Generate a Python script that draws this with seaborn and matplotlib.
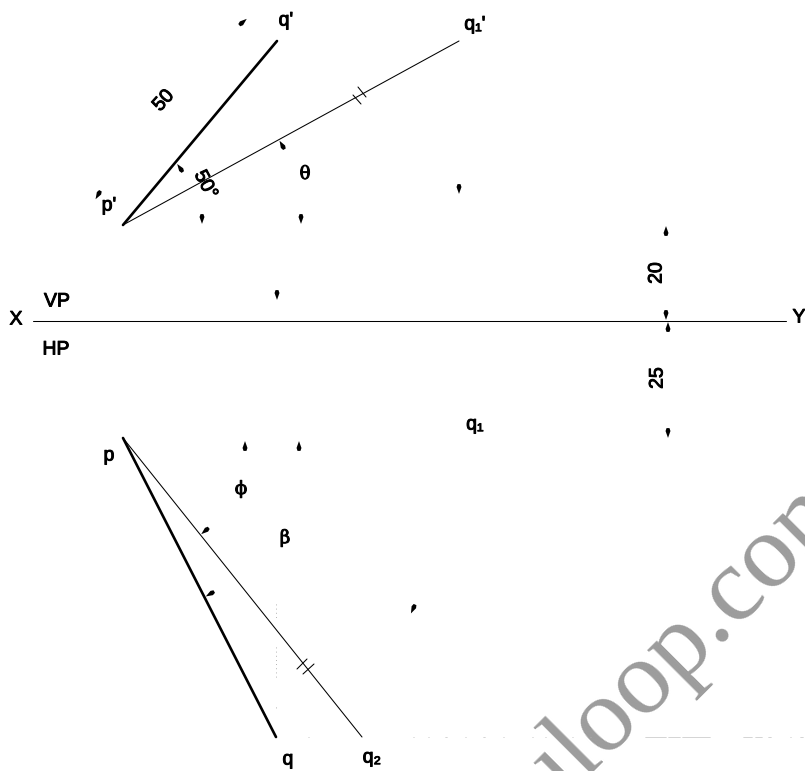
import matplotlib

matplotlib.use("Agg")
import matplotlib.patheffects as pe
import seaborn as sns
from matplotlib import pyplot as plt
from matplotlib.markers import MarkerStyle
from matplotlib.path import Path
from matplotlib.transforms import Affine2D

# everything below is in picture coordinates, y going down
thick_lines = [
    ([123, 277], [225, 41]),
    ([123, 276], [438, 737]),
]
thin_lines = [
    ([123, 459], [225, 41]),
    ([123, 362], [438, 737]),
    ([33, 786], [320.5, 320.5]),
    ([353, 361], [95, 104]),
    ([358, 366], [87, 97]),
    ([297, 307], [669, 659]),
    ([303, 314], [674, 664]),
]
faint_vertical = [(276, 604, 618), (276, 647, 677), (276, 707, 710)]
faint_horizontal = [(308, 309), (413, 414), (428, 429), (445, 447), (465, 466), (483, 485),
                    (503, 504), (532, 533), (545, 546), (572, 573), (590, 591),
                    (645, 666), (668, 680), (682, 710), (743, 752), (755, 762), (768, 771),
                    (790, 791), (800, 803)]

# arrowhead x, y, direction of the tip (degrees anticlockwise from up)
arrow_x = [243, 98, 180, 282, 459, 202, 301, 277, 245, 299, 205, 210, 413, 666, 666, 668, 668]
arrow_y = [22, 195, 168, 145, 189, 219, 219, 295, 446, 446, 531, 594, 609, 231, 315, 327, 433]
arrow_dir = [-50, 150, 35, 30, 180, 180, 180, 180, 0, 0, 130, 120, 155, 0, 180, 0, 180]

label_text = ["q'", "q\u2081'", "p'", "50", "50\u00b0", "X", "VP", "HP", "Y", "20", "25", "q\u2081", "p", "q", "q\u2082"]
label_x = [286, 475, 109, 164, 205, 16, 57, 56, 799, 657, 658, 475, 109, 288, 372]
label_y = [21, 25, 206, 101, 185, 320, 302, 350, 318, 273, 378, 425, 456, 760, 758]
label_rot = [0, 0, 0, 48, -62, 0, 0, 0, 0, 90, 90, 0, 0, 0, 0]

greek_text = ["\u03b8", "\u03d5", "\u03b2"]
greek_x = [305, 241, 285]
greek_y = [174, 489, 538]

sns.set_theme(style="white")
plt.rcParams["font.family"] = ["Liberation Sans", "DejaVu Sans"]


def wedge(direction):
    shape = Path([(0, 1), (-0.5, -0.4), (-0.3, -1), (0.3, -1), (0.5, -0.4), (0, 1)], closed=True)
    return MarkerStyle(shape, transform=Affine2D().rotate_deg(direction))


def draw_segment(ax, xs, ys, width, color="black"):
    sns.lineplot(x=xs, y=ys, ax=ax, color=color, linewidth=width, estimator=None, sort=False,
                 errorbar=None, legend=False)


def main():
    fig = plt.figure(figsize=(8.05, 7.71), dpi=100)
    ax = fig.add_axes([0, 0, 1, 1])
    ax.set_xlim(0, 805)
    ax.set_ylim(771, 0)
    ax.axis("off")

    # watermark cut by the bottom and right edges
    ax.text(547, 817, "uloop.com", family="Liberation Serif", fontsize=76, color="#9c9c9c",
            rotation=45, rotation_mode="anchor", ha="left", va="baseline", clip_on=True, zorder=0)

    for xs, ys in thick_lines:
        draw_segment(ax, xs, ys, 1.9)
    for xs, ys in thin_lines:
        draw_segment(ax, xs, ys, 0.75)
    for x, y0, y1 in faint_vertical:
        sns.lineplot(x=[x, x], y=[y0, y1], ax=ax, color="#999999", linewidth=0.6,
                     linestyle=(0, (1, 4)), estimator=None, sort=False, errorbar=None)
    for x0, x1 in faint_horizontal:
        draw_segment(ax, [x0, x1], [737, 737], 0.4, color="#b5b5b5")

    for x, y, d in zip(arrow_x, arrow_y, arrow_dir):
        sns.scatterplot(x=[x], y=[y], ax=ax, marker=wedge(d), s=50, color="black",
                        edgecolor="none", legend=False)

    stroke = [pe.withStroke(linewidth=0.7, foreground="black")]
    for text, x, y, rot in zip(label_text, label_x, label_y, label_rot):
        ax.text(x, y, text, fontsize=14, color="black", rotation=rot, ha="center", va="center",
                path_effects=stroke)
    for text, x, y in zip(greek_text, greek_x, greek_y):
        ax.text(x, y, text, family="DejaVu Serif", fontsize=13, color="black", ha="center", va="center",
                path_effects=stroke)

    ax.set_xlim(0, 805)
    ax.set_ylim(771, 0)
    fig.savefig("out.png", dpi=100)
    plt.close(fig)


if __name__ == "__main__":
    main()
